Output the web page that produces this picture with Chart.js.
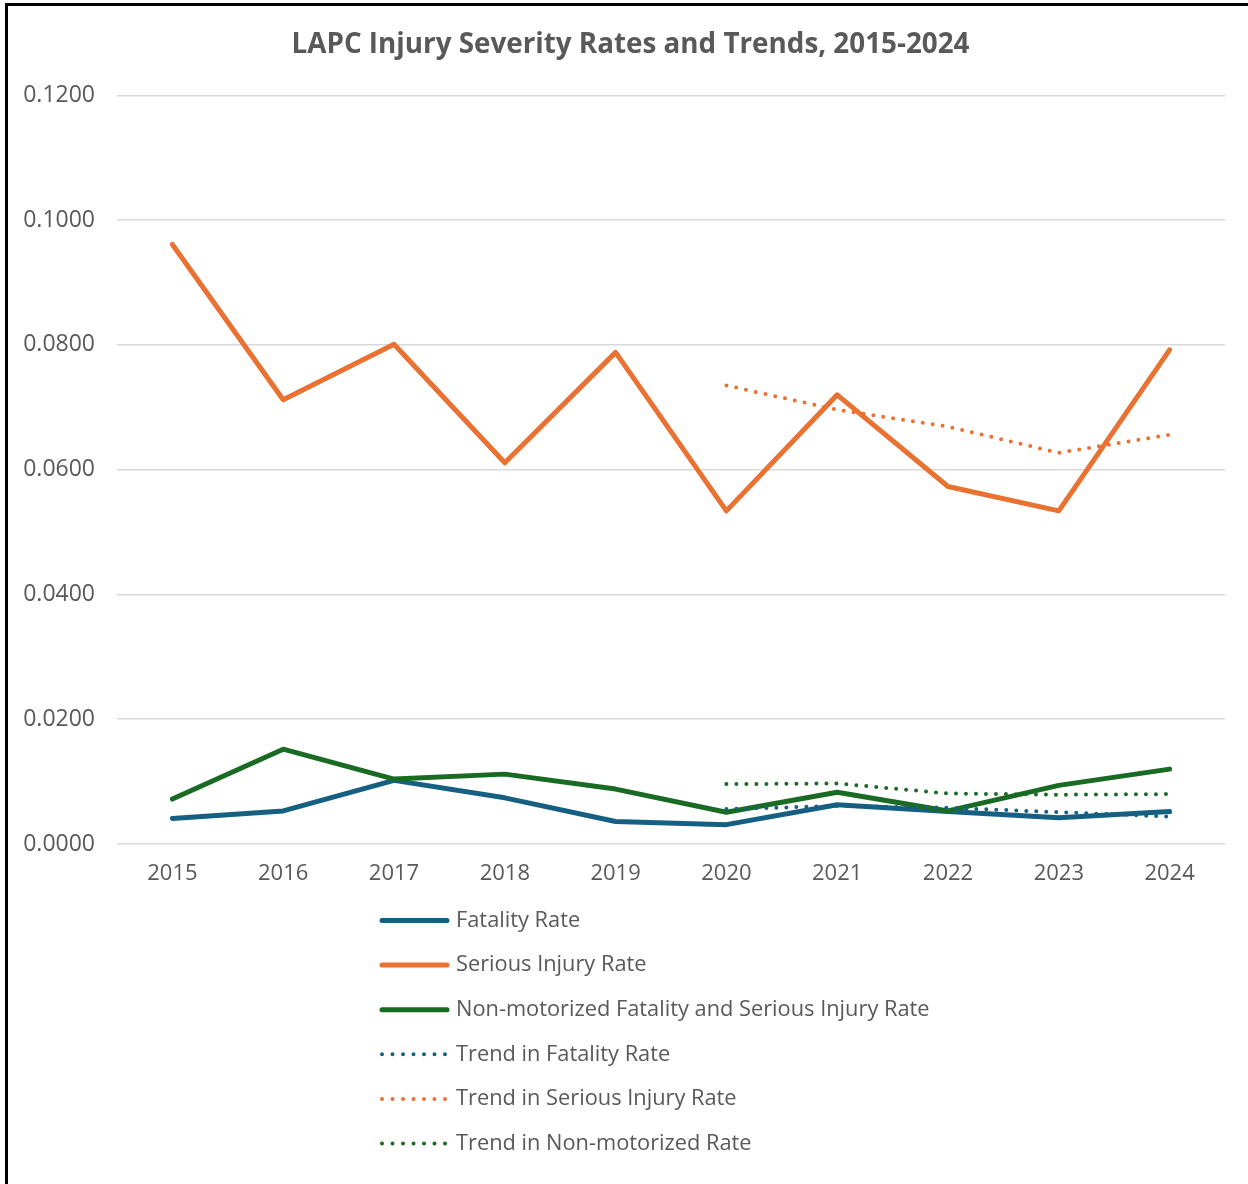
<!DOCTYPE html>
<html>
<head>
<meta charset="utf-8">
<script src="https://cdn.jsdelivr.net/npm/chart.js@4/dist/chart.umd.min.js"></script>
<style>
  html, body { margin: 0; padding: 0; background: #fff; }
  #wrap { position: relative; width: 1248px; height: 1184px; overflow: hidden; background: #fff; }
  #c { position: absolute; left: 0; top: 0; }
  .bl { position: absolute; left: 5px; top: 3px; width: 3px; height: 1181px; background: #000; }
  .bt { position: absolute; left: 5px; top: 3px; width: 1243px; height: 3px; background: #000; }
</style>
</head>
<body>
<div id="wrap">
  <canvas id="c" width="1248" height="1184"></canvas>
  <div class="bl"></div>
  <div class="bt"></div>
</div>
<script>
const years = ['2015','2016','2017','2018','2019','2020','2021','2022','2023','2024'];
const fatalityRate = [0.0041, 0.0053, 0.0102, 0.0074, 0.0036, 0.0031, 0.0063, 0.0052, 0.0042, 0.0052];
const seriousInjuryRate = [0.0961, 0.0712, 0.0801, 0.0611, 0.0788, 0.0534, 0.0720, 0.0573, 0.0534, 0.0792];
const nonMotorizedRate = [0.0072, 0.0152, 0.0104, 0.0112, 0.0088, 0.0051, 0.0083, 0.0053, 0.0094, 0.0120];
const trendFatality = [null, null, null, null, null, 0.0056, 0.0061, 0.0058, 0.0051, 0.0044];
const trendSerious = [null, null, null, null, null, 0.0735, 0.0696, 0.0669, 0.0627, 0.0656];
const trendNonMotorized = [null, null, null, null, null, 0.0096, 0.0097, 0.0081, 0.0079, 0.0080];
const yTicks = [0, 0.02, 0.04, 0.06, 0.08, 0.10, 0.12];

const BLUE = '#156082', ORANGE = '#E97132', GREEN = '#196B24';
const TXT = '#595959';
const FONT = "'Open Sans', 'Liberation Sans', sans-serif";

Chart.defaults.font.family = FONT;
Chart.defaults.color = TXT;

function solid(label, data, color, order) {
  return { label, data, borderColor: color, backgroundColor: color, borderWidth: 5,
    pointRadius: 0, pointHoverRadius: 0, borderJoinStyle: 'round', borderCapStyle: 'round',
    tension: 0, order, dotted: false };
}
function dotted(label, data, color, order) {
  return { label, data, borderColor: color, backgroundColor: color, borderWidth: 4,
    borderDash: [0, 10], borderCapStyle: 'round', pointRadius: 0, pointHoverRadius: 0,
    tension: 0, spanGaps: false, order, dotted: true };
}

const titleShift = {
  id: 'titleShift',
  afterLayout(chart) {
    if (chart.titleBlock) { chart.titleBlock.left += 14; chart.titleBlock.right += 14; }
  }
};

const legendPlugin = {
  id: 'vlegend',
  afterDraw(chart) {
    const ctx = chart.ctx;
    const ds = chart.data.datasets;
    ctx.save();
    ds.forEach((d, i) => {
      const y = 920.5 + i * 44.6;
      ctx.beginPath();
      ctx.strokeStyle = d.borderColor;
      ctx.lineCap = 'round';
      if (d.dotted) {
        ctx.lineWidth = 4;
        ctx.setLineDash([0, 10.5]);
        ctx.moveTo(382, y);
        ctx.lineTo(448, y);
      } else {
        ctx.lineWidth = 5;
        ctx.setLineDash([]);
        ctx.moveTo(382, y);
        ctx.lineTo(447, y);
      }
      ctx.stroke();
      ctx.setLineDash([]);
      ctx.fillStyle = TXT;
      ctx.font = "21.8px " + FONT;
      ctx.textBaseline = 'middle';
      ctx.textAlign = 'left';
      ctx.fillText(d.label, 456, y);
    });
    ctx.restore();
  }
};

new Chart(document.getElementById('c'), {
  type: 'line',
  data: {
    labels: years,
    datasets: [
      solid('Fatality Rate', fatalityRate, BLUE, 6),
      solid('Serious Injury Rate', seriousInjuryRate, ORANGE, 5),
      solid('Non-motorized Fatality and Serious Injury Rate', nonMotorizedRate, GREEN, 4),
      dotted('Trend in Fatality Rate', trendFatality, BLUE, 3),
      dotted('Trend in Serious Injury Rate', trendSerious, ORANGE, 2),
      dotted('Trend in Non-motorized Rate', trendNonMotorized, GREEN, 1)
    ]
  },
  options: {
    responsive: false,
    animation: false,
    devicePixelRatio: 1,
    layout: { padding: { left: 8, right: 23, top: 0, bottom: 0 } },
    plugins: {
      legend: { display: false },
      tooltip: { enabled: false },
      title: {
        display: true,
        text: 'LAPC Injury Severity Rates and Trends, 2015-2024',
        color: TXT,
        font: { size: 27.8, weight: 'bold', family: FONT },
        padding: { top: 28, bottom: 34 }
      }
    },
    scales: {
      x: {
        offset: true,
        grid: { display: false, drawTicks: false },
        border: { display: false },
        ticks: { font: { size: 22 }, color: TXT, padding: 17, maxRotation: 0 },
        afterFit(s) { s.height = 340; }
      },
      y: {
        min: 0, max: 0.12,
        afterBuildTicks(s) { s.ticks = yTicks.map(v => ({ value: v })); },
        grid: { color: '#d9d9d9', lineWidth: 1.5, drawTicks: false },
        border: { display: false },
        ticks: { font: { size: 23 }, color: TXT, padding: 22,
          callback: v => Number(v).toFixed(4) },
        afterFit(s) { s.width = 109; }
      }
    }
  },
  plugins: [titleShift, legendPlugin]
});
</script>
</body>
</html>
